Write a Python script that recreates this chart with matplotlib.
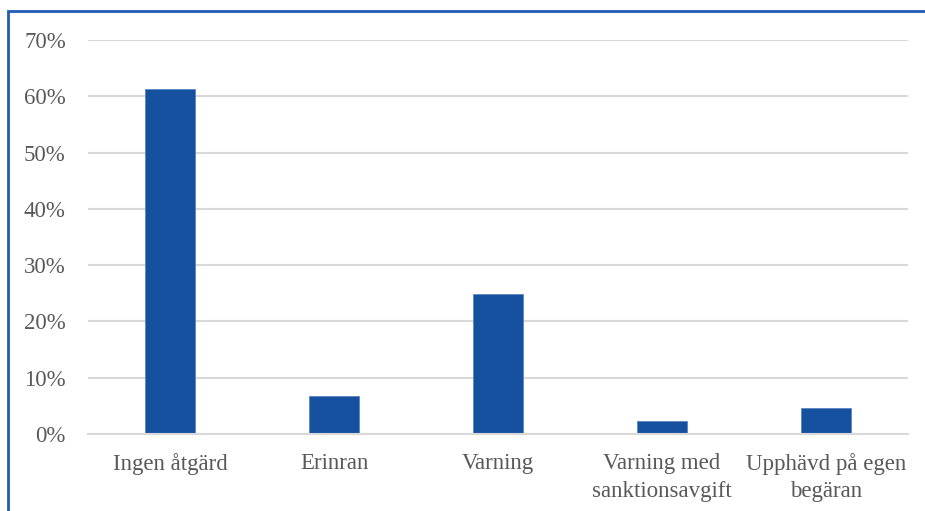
import matplotlib
matplotlib.use("Agg")
import matplotlib.pyplot as plt
from matplotlib.patches import Rectangle
from matplotlib.ticker import FuncFormatter, MultipleLocator

categories = ["Ingen åtgärd", "Erinran", "Varning",
              "Varning med\nsanktionsavgift", "Upphävd på egen\nbegäran"]
shares = [0.613, 0.068, 0.249, 0.023, 0.046]

bar_color = "#1651A0"
text_color = "#595959"
grid_color = "#D9D9D9"

plt.rcParams["font.family"] = ["Liberation Serif", "DejaVu Serif"]

fig = plt.figure(figsize=(9.25, 5.11), dpi=100)
ax = fig.add_axes([88 / 925, 1 - 434 / 511, 820 / 925, 394 / 511])

x = range(len(categories))
ax.bar(x, shares, width=0.31, color=bar_color, edgecolor="#5B86C5",
       linewidth=0.6, zorder=3)

ax.set_xlim(-0.5, len(categories) - 0.5)
ax.set_ylim(0, 0.7)
ax.yaxis.set_major_locator(MultipleLocator(0.1))
ax.yaxis.set_major_formatter(FuncFormatter(lambda v, _: f"{v * 100:.0f}%"))
ax.grid(axis="y", color=grid_color, linewidth=1.5, zorder=0)

ax.set_xticks(list(x))
ax.set_xticklabels(categories, linespacing=1.38)
ax.tick_params(axis="both", length=0, labelsize=16.5, colors=text_color)
ax.tick_params(axis="y", pad=16)
ax.tick_params(axis="x", pad=14)

for side in ("top", "right", "left"):
    ax.spines[side].set_visible(False)
ax.spines["bottom"].set_color(grid_color)
ax.spines["bottom"].set_linewidth(1.5)
ax.spines["bottom"].set_zorder(4)

# outer frame around the chart area
fig.patches.append(Rectangle((8 / 925, -0.1), 1.2, 1.1 - 11 / 511,
                             transform=fig.transFigure, fill=False,
                             edgecolor="#1F5CB4", linewidth=2))

fig.savefig("out.png", dpi=100)
